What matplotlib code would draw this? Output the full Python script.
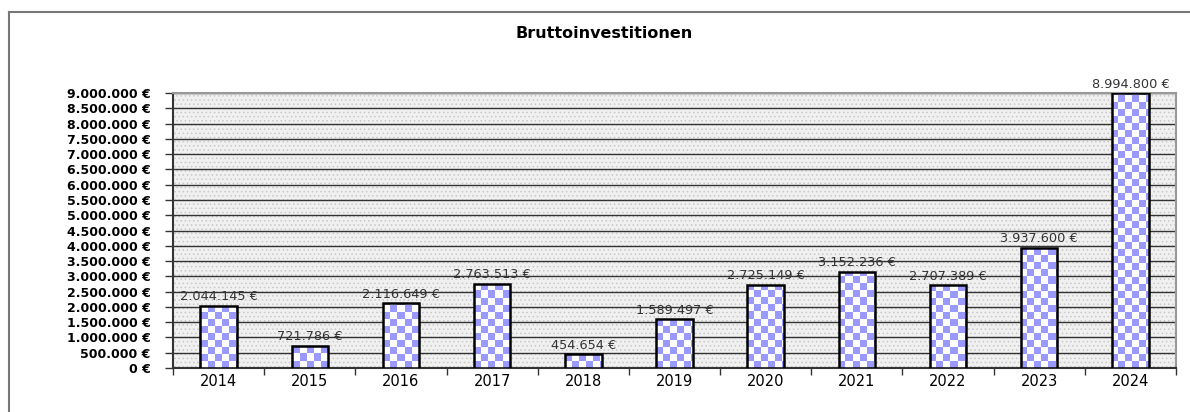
import numpy as np
import matplotlib
matplotlib.use("Agg")
import matplotlib.pyplot as plt
from matplotlib.lines import Line2D
from matplotlib.patches import Rectangle
from matplotlib.colors import ListedColormap

years = ["2014", "2015", "2016", "2017", "2018", "2019", "2020", "2021", "2022", "2023", "2024"]
values = [2044145, 721786, 2116649, 2763513, 454654, 1589497, 2725149, 3152236, 2707389, 3937600, 8994800]
y_ticks = list(range(0, 9000001, 500000))
title = "Bruttoinvestitionen"

def euro(v):
    return f"{v:,.0f}".replace(",", ".") + " €"

plt.rcParams["hatch.linewidth"] = 0.6

W, H = 1190, 412
fig = plt.figure(figsize=(W / 100, H / 100), dpi=100)
fig.patch.set_facecolor("white")

L, R, T, B = 173, 1176, 93, 368
ax = fig.add_axes([L / W, 1 - B / H, (R - L) / W, (B - T) / H])
ax.set_facecolor("#f0f0f0")
bg = Rectangle((0, 0), 1, 1, transform=ax.transAxes, facecolor="none",
               edgecolor="#c8c8c8", hatch="....", lw=0, zorder=0)
ax.add_patch(bg)

x = np.arange(len(years))
bars = ax.bar(x, values, width=0.4, facecolor="white", edgecolor="none", zorder=2)

# checkerboard fill
sq = 7
pw, ph = R - L, B - T
nc, nr = pw // sq + 2, ph // sq + 2
cb = (np.add.outer(np.arange(nr), np.arange(nc)) % 2).astype(float)
cmap = ListedColormap(["#ffffff", "#9999ff"])
for b in bars:
    im = ax.imshow(cb, cmap=cmap, interpolation="nearest", aspect="auto",
                   extent=(0, nc * sq / pw, 0, nr * sq / ph), transform=ax.transAxes,
                   zorder=3, vmin=0, vmax=1)
    im.set_clip_path(b)
ax.bar(x, values, width=0.4, facecolor="none", edgecolor="black", lw=1.8, zorder=4)

for xi, v in zip(x, values):
    ax.annotate(euro(v), (xi, v), xytext=(0, 9), textcoords="offset pixels",
                ha="center", va="center", fontsize=9.3, color="#333333",
                family="DejaVu Sans", zorder=5, annotation_clip=False)

ax.set_xlim(-0.5, len(years) - 0.5)
ax.set_ylim(0, 9000000)
ax.set_yticks(y_ticks)
ax.set_yticklabels([euro(v) for v in y_ticks], fontsize=9, fontweight="bold",
                   family="DejaVu Sans")
ax.yaxis.grid(True, color="#333333", lw=1.0, zorder=1)
ax.set_axisbelow(True)
ax.tick_params(axis="y", length=6, width=1, color="#333333", pad=10)

ax.set_xticks(x)
ax.set_xticklabels(years, fontsize=10.5, family="DejaVu Sans")
ax.set_xticks(np.arange(-0.5, len(years), 1), minor=True)
ax.tick_params(axis="x", which="major", length=0, pad=4)
ax.tick_params(axis="x", which="minor", length=5, width=1, color="#333333")

for s in ["left", "bottom"]:
    ax.spines[s].set_color("#333333")
    ax.spines[s].set_linewidth(1.5)
for s in ["top", "right"]:
    ax.spines[s].set_color("#999999")
    ax.spines[s].set_linewidth(1.5)

fig.text(604 / W, 1 - 34 / H, title, ha="center", va="center", fontsize=11.5,
         fontweight="bold", family="DejaVu Sans")

fig.add_artist(Line2D([9 / W, 9 / W], [0, 1 - 12 / H], color="#777777", lw=1.5))
fig.add_artist(Line2D([9 / W, 1], [1 - 12 / H, 1 - 12 / H], color="#777777", lw=1.5))

fig.savefig("out.png", dpi=100)
